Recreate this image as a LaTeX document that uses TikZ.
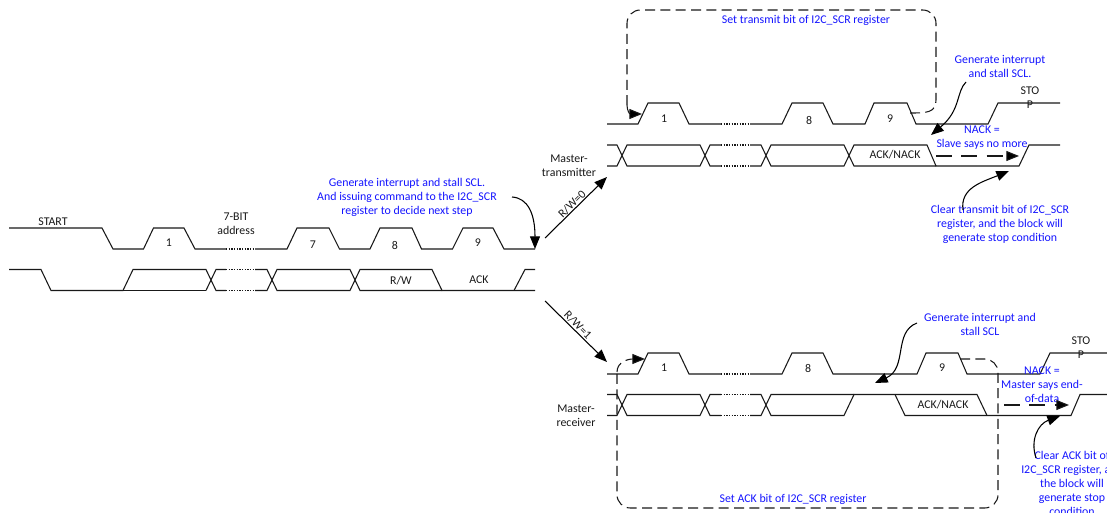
\documentclass[tikz,border=0pt]{standalone}
\usepackage{fontspec}
\setmainfont{Carlito}
\usetikzlibrary{arrows.meta}
\definecolor{noteblue}{RGB}{20,20,255}
\definecolor{ink}{RGB}{25,25,25}
\tikzset{
  wave/.style={draw=ink,line width=0.8pt,line join=miter},
  gap/.style={draw=ink,line width=0.8pt,dash pattern=on 1pt off 1pt},
  lbl/.style={font=\fontsize{8.9}{10.5}\selectfont,text=ink,inner sep=0pt,align=center},
  note/.style={font=\fontsize{8.9}{10.5}\selectfont,text=noteblue,inner sep=0pt,align=center},
  tipped/.style={draw=black,line width=0.8pt,-{Triangle[length=9.5pt,width=7.5pt]}},
  region/.style={draw=ink,line width=0.8pt,dash pattern=on 7.5pt off 4pt},
  regionarrow/.style={region,-{Triangle[length=9.5pt,width=7.5pt,fill=black]}},
}
\begin{document}
\begin{tikzpicture}[x=0.75pt,y=-0.75pt]
\useasboundingbox (0,0) rectangle (1107,513);
% --- left waveform ---
\draw[wave] (9,228) -- (102,228) -- (113,249) -- (143.5,249) -- (153.5,228) -- (184,228) -- (195,249) -- (226,249);
\draw[gap] (226,249) -- (255,249);
\draw[wave] (255,249) -- (287,249) -- (297,228) -- (329,228) -- (339.5,249) -- (370,249) -- (380,228) -- (412,228) -- (421.5,249) -- (452.5,249) -- (463,228) -- (493,228) -- (504,249) -- (535,249);
\draw[wave] (9,269.5) -- (41,269.5) -- (51,290.5) -- (123,290.5) -- (133,269.5) -- (206,269.5) -- (216,290.5) -- (226,290.5);
\draw[wave] (206,290.5) -- (216,269.5) -- (226,269.5);
\draw[wave] (123,290.5) -- (206,290.5);
\draw[gap] (226,269.5) -- (255,269.5);
\draw[gap] (226,290.5) -- (255,290.5);
\draw[wave] (255,269.5) -- (267,269.5) -- (277,290.5) -- (350,290.5) -- (360,269.5) -- (432,269.5) -- (442,290.5) -- (535,290.5);
\draw[wave] (255,290.5) -- (267,290.5) -- (277,269.5) -- (350,269.5) -- (360,290.5) -- (442,290.5);
\draw[wave] (514,290.5) -- (525,269.5) -- (535,269.5);
% --- upper branch ---
\draw[wave] (607,124) -- (638,124) -- (648,103) -- (679,103) -- (689,124) -- (721,124);
\draw[gap] (721,124) -- (750,124);
\draw[wave] (750,124) -- (782,124) -- (792,103) -- (823,103) -- (833,124) -- (865,124) -- (874,103) -- (907,103) -- (916,124) -- (988,124) -- (998,103) -- (1060,103);
\draw[wave] (607,145) -- (617,145) -- (627,166) -- (700,166) -- (710,145) -- (721,145);
\draw[wave] (607,166) -- (617,166) -- (627,145) -- (700,145) -- (710,166) -- (721,166);
\draw[gap] (721,145) -- (750,145);
\draw[gap] (721,166) -- (750,166);
\draw[wave] (750,145) -- (761,145) -- (771,166) -- (844,166) -- (854,145) -- (927,145) -- (936,166) -- (1019,166) -- (1029,145) -- (1060,145);
\draw[wave] (750,166) -- (761,166) -- (771,145) -- (844,145) -- (854,166) -- (936,166);
% --- lower branch ---
\draw[wave] (607,374) -- (638,374) -- (648,353) -- (679,353) -- (689,374) -- (721,374);
\draw[gap] (721,374) -- (750,374);
\draw[wave] (750,374) -- (782,374) -- (792,353) -- (823,353) -- (833,374) -- (917,374) -- (926,353) -- (958,353) -- (967,374) -- (1040,374) -- (1050,353) -- (1107,353);
\draw[wave] (607,394.5) -- (617,394.5) -- (627,415.5) -- (700,415.5) -- (710,394.5) -- (721,394.5);
\draw[wave] (607,415.5) -- (617,415.5) -- (627,394.5) -- (700,394.5) -- (710,415.5) -- (721,415.5);
\draw[gap] (721,394.5) -- (750,394.5);
\draw[gap] (721,415.5) -- (750,415.5);
\draw[wave] (750,394.5) -- (761,394.5) -- (771,415.5) -- (844,415.5) -- (854,394.5) -- (977,394.5) -- (987,415.5);
\draw[wave] (750,415.5) -- (761,415.5) -- (771,394.5) -- (854,394.5);
\draw[wave] (895,394.5) -- (905,415.5) -- (1071,415.5) -- (1080,394.5) -- (1107,394.5);
% --- texts ---
\node[lbl] (start) at (53,222) {START};
\node[lbl] (addr) at (236,224) {7-BIT\\address};
\node[lbl] (a1) at (169,243) {1};
\node[lbl] (a7) at (313,245) {7};
\node[lbl] (a8) at (395,245) {8};
\node[lbl] (a9) at (478,243) {9};
\node[lbl] (rw) at (401,281) {R/W};
\node[lbl] (ack) at (479,280) {ACK};
\node[lbl,rotate=45] (rw0) at (572,204) {R/W=0};
\node[lbl,rotate=-45] (rw1) at (578,325) {R/W=1};
\node[note] (ncenter) at (407,197) {Generate interrupt and stall SCL.\\And issuing command to the I2C\_SCR\\register to decide next step};
\node[lbl] (mt) at (569,166) {Master-\\transmitter};
\node[note] (settx) at (806,20) {Set transmit bit of I2C\_SCR register};
\node[note] (ntop) at (1000,66) {Generate interrupt\\and stall SCL.};
\node[lbl] (stop1) at (1030,98) {STO\\P};
\node[note] (nack1) at (982,138) {NACK =\\Slave says no more};
\node[lbl] (an1) at (895,155) {ACK/NACK};
\node[lbl] (u1) at (664,119) {1};
\node[lbl] (u8) at (809,120) {8};
\node[lbl] (u9) at (890,119) {9};
\node[note] (clrtx) at (1000,224) {Clear transmit bit of I2C\_SCR\\register, and the block will\\generate stop condition};
\node[note] (nbot) at (980,324) {Generate interrupt and\\stall SCL};
\node[lbl] (stop2) at (1081,348) {STO\\P};
\node[note] (nack2) at (1042,385) {NACK =\\Master says end-\\of-data};
\node[lbl] (an2) at (943,405) {ACK/NACK};
\node[lbl] (l1) at (664,368) {1};
\node[lbl] (l8) at (808,368) {8};
\node[lbl] (l9) at (942,368) {9};
\node[lbl] (mr) at (576,416) {Master-\\receiver};
\node[note] (setack) at (793,499) {Set ACK bit of I2C\_SCR register};
\node[note] (clrack) at (1072,483) {Clear ACK bit of\\I2C\_SCR register, and\\the block will\\generate stop\\condition};
% --- connector ends ---
\coordinate (c1s) at (512,197);
\coordinate (c1e) at (535,249);
\coordinate (b0s) at (545,238);
\coordinate (b0e) at (607,177);
\coordinate (b1s) at (545,301);
\coordinate (b1e) at (607,362);
\coordinate (c2s) at (966,82);
\coordinate (c2e) at (931,135);
\coordinate (c3s) at (963,210);
\coordinate (c3e) at (1009,171);
\coordinate (c4s) at (917,323);
\coordinate (c4e) at (875,383);
\coordinate (c5s) at (1036,458);
\coordinate (c5e) at (1060,416);
\coordinate (n1s) at (936,156);
\coordinate (n1e) at (1019,156);
\coordinate (n2s) at (1004,405);
\coordinate (n2e) at (1069,405);
\coordinate (r1s) at (910,113);
\coordinate (r1e) at (642,114);
\coordinate (r2s) at (960,359);
\coordinate (r2e) at (645,359);
% --- connectors ---
\draw[tipped] (c1s) .. controls (528,198) and (535,214) .. (c1e);
\draw[tipped] (b0s) -- (b0e);
\draw[tipped] (b1s) -- (b1e);
\draw[tipped] (c2s) .. controls (956,92) and (961,110) .. (c2e);
\draw[tipped] (c3s) .. controls (960,188) and (982,182) .. (c3e);
\draw[tipped] (c4s) .. controls (893,332) and (908,368) .. (c4e);
\draw[tipped] (c5s) .. controls (1030,440) and (1038,424) .. (c5e);
\draw[regionarrow,dash pattern=on 12pt off 7pt] (n1s) -- (n1e);
\draw[regionarrow,dash pattern=on 12pt off 7pt] (n2s) -- (n2e);
% --- dashed regions ---
\draw[region] (r1s) .. controls (926,113) and (936,113) .. (936,100) [rounded corners=10pt] -- (936,10) -- (627,10) [rounded corners=0pt] -- (627,105);
\draw[regionarrow] (627,105) .. controls (627,111) and (630,114) .. (r1e);
\draw[region] (r2s) [rounded corners=10pt] -- (998,359) -- (998,508) -- (617,508) [rounded corners=0pt] -- (617,372);
\draw[regionarrow] (617,372) .. controls (617,362) and (628,359) .. (r2e);
\end{tikzpicture}
\end{document}
